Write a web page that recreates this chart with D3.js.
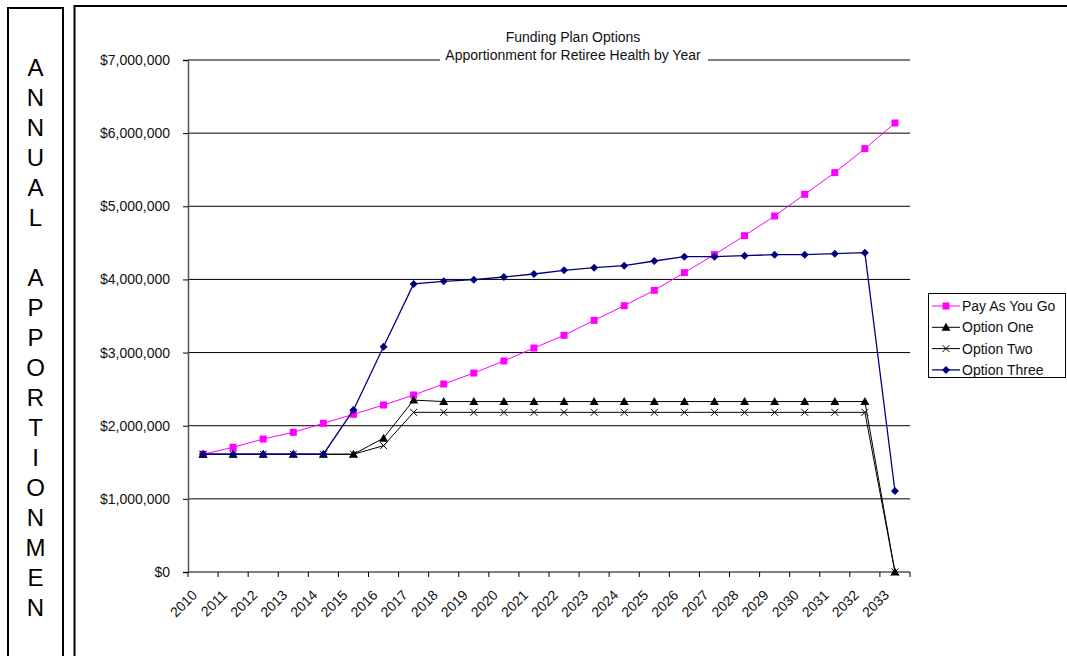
<!DOCTYPE html>
<html>
<head>
<meta charset="utf-8">
<script src="https://cdnjs.cloudflare.com/ajax/libs/d3/7.8.5/d3.min.js"></script>
<style>
  html, body { margin: 0; padding: 0; background: #fff; }
  svg { display: block; font-family: "Liberation Sans", Arial, sans-serif; }
</style>
</head>
<body>
<svg id="chart" width="1067" height="656"></svg>
<script>
// Fiscal years shown on the category axis
const years = ["2010","2011","2012","2013","2014","2015","2016","2017","2018","2019","2020","2021",
               "2022","2023","2024","2025","2026","2027","2028","2029","2030","2031","2032","2033"];

// Annual apportionment by funding plan (dollars)
const payAsYouGo = [1610000, 1705000, 1818000, 1910000, 2033000, 2156000, 2283000, 2420000,
                    2570000, 2720000, 2885000, 3063000, 3236000, 3441000, 3641000, 3851000,
                    4093000, 4339000, 4598000, 4867000, 5164000, 5460000, 5788000, 6139000];
const optionOne  = [1610000, 1610000, 1610000, 1610000, 1610000, 1610000, 1830000, 2350000,
                    2330000, 2330000, 2330000, 2330000, 2330000, 2330000, 2330000, 2330000,
                    2330000, 2330000, 2330000, 2330000, 2330000, 2330000, 2330000, 0];
const optionTwo  = [1610000, 1610000, 1610000, 1610000, 1610000, 1610000, 1727000, 2183000,
                    2183000, 2183000, 2183000, 2183000, 2183000, 2183000, 2183000, 2183000,
                    2183000, 2183000, 2183000, 2183000, 2183000, 2183000, 2183000, 0];
const optionThree = [1610000, 1610000, 1610000, 1610000, 1610000, 2215000, 3080000, 3938000,
                     3974000, 3997000, 4033000, 4074000, 4125000, 4161000, 4188000, 4252000,
                     4311000, 4311000, 4325000, 4339000, 4339000, 4352000, 4366000, 1107000];

const yTicks = [0, 1000000, 2000000, 3000000, 4000000, 5000000, 6000000, 7000000];
const sideLetters = ["A","N","N","U","A","L","","A","P","P","O","R","T","I","O","N","M","E","N"];

const series = [
  { name: "Pay As You Go", values: payAsYouGo, color: "#ff00ff", marker: "square", width: 1 },
  { name: "Option One",    values: optionOne,  color: "#000000", marker: "triangle", width: 1 },
  { name: "Option Two",    values: optionTwo,  color: "#000000", marker: "cross", width: 1 },
  { name: "Option Three",  values: optionThree, color: "#000080", marker: "diamond", width: 1.3 }
];

const svg = d3.select("#chart");

// Outer frames
svg.append("rect").attr("x", 8).attr("y", 8).attr("width", 55).attr("height", 660)
  .attr("fill", "none").attr("stroke", "#000").attr("stroke-width", 2);
svg.append("rect").attr("x", 74.5).attr("y", 6).attr("width", 1010).attr("height", 670)
  .attr("fill", "none").attr("stroke", "#000").attr("stroke-width", 2);

// Vertical side caption, one letter per row
svg.append("g").selectAll("text").data(sideLetters).join("text")
  .attr("x", 35.5).attr("y", (d, i) => 76 + i * 30.0)
  .attr("text-anchor", "middle").attr("font-size", 24).attr("fill", "#000")
  .text(d => d);

// Plot area
const plot = { left: 188, right: 910, top: 60, bottom: 572 };
const x = d3.scaleBand().domain(years).range([plot.left, plot.right]).padding(0);
const y = d3.scaleLinear().domain([0, 7000000]).range([plot.bottom, plot.top]);
const cx = d => x(d) + x.bandwidth() / 2;

// Horizontal gridlines
svg.append("g").selectAll("line").data(yTicks.filter(t => t > 0)).join("line")
  .attr("x1", plot.left).attr("x2", plot.right)
  .attr("y1", d => y(d)).attr("y2", d => y(d))
  .attr("stroke", "#000").attr("stroke-width", 1);

// Y axis
const fmt = d3.format("$,.0f");
const yAxis = svg.append("g").attr("transform", `translate(${plot.left},0)`)
  .call(d3.axisLeft(y).tickValues(yTicks).tickFormat(fmt).tickSize(5).tickPadding(13));
yAxis.select(".domain").attr("stroke", "#555").attr("stroke-width", 1.5);
yAxis.selectAll(".tick line").attr("stroke", "#000");
yAxis.selectAll("text").attr("font-size", 14).attr("fill", "#111")
  .attr("font-family", "'Liberation Sans', Arial, sans-serif");

// X axis with tick marks on category boundaries
const xAxisG = svg.append("g").attr("transform", `translate(0,${plot.bottom})`);
xAxisG.append("line").attr("x1", plot.left).attr("x2", plot.right)
  .attr("y1", 0).attr("y2", 0).attr("stroke", "#555").attr("stroke-width", 1.5);
const boundaries = years.map(d => x(d)).concat([plot.right]);
xAxisG.selectAll("line.tk").data(boundaries).join("line").attr("class", "tk")
  .attr("x1", d => d).attr("x2", d => d).attr("y1", 0).attr("y2", 5)
  .attr("stroke", "#000");
xAxisG.selectAll("text").data(years).join("text")
  .attr("transform", d => `translate(${cx(d) - 5},24) rotate(-45)`)
  .attr("text-anchor", "end").attr("font-size", 14).attr("fill", "#111")
  .text(d => d);

// Title, with a white backing over the top gridline
svg.append("rect").attr("x", 440).attr("y", 48).attr("width", 268).attr("height", 16).attr("fill", "#fff");
svg.append("text").attr("x", 573).attr("y", 42).attr("text-anchor", "middle")
  .attr("font-size", 14).attr("fill", "#111").text("Funding Plan Options");
svg.append("text").attr("x", 573).attr("y", 60).attr("text-anchor", "middle")
  .attr("font-size", 14).attr("fill", "#111").text("Apportionment for Retiree Health by Year");

// Marker shapes
function drawMarker(g, type, color) {
  if (type === "square") {
    g.append("rect").attr("x", -3.5).attr("y", -3.5).attr("width", 7).attr("height", 7).attr("fill", color);
  } else if (type === "triangle") {
    g.append("path").attr("d", "M0,-4.5L4.5,3.5L-4.5,3.5Z").attr("fill", color);
  } else if (type === "cross") {
    g.append("path").attr("d", "M-3.5,-3.5L3.5,3.5M-3.5,3.5L3.5,-3.5")
      .attr("stroke", color).attr("stroke-width", 1).attr("fill", "none");
  } else if (type === "diamond") {
    g.append("path").attr("d", "M0,-4L4,0L0,4L-4,0Z").attr("fill", color);
  }
}

// Series lines and markers
const line = d3.line().x((d, i) => cx(years[i])).y(d => y(d));
series.forEach(s => {
  const g = svg.append("g");
  g.append("path").datum(s.values).attr("d", line)
    .attr("fill", "none").attr("stroke", s.color).attr("stroke-width", s.width);
  s.values.forEach((v, i) => {
    const m = g.append("g").attr("transform", `translate(${cx(years[i])},${y(v)})`);
    drawMarker(m, s.marker, s.color);
  });
});

// Legend
const legend = svg.append("g");
legend.append("rect").attr("x", 928.5).attr("y", 293.5).attr("width", 137).attr("height", 84)
  .attr("fill", "#fff").attr("stroke", "#000").attr("stroke-width", 1);
series.forEach((s, i) => {
  const ly = 306 + i * 21.3;
  const lg = legend.append("g");
  lg.append("line").attr("x1", 932).attr("x2", 960).attr("y1", ly).attr("y2", ly)
    .attr("stroke", s.color).attr("stroke-width", s.width);
  drawMarker(lg.append("g").attr("transform", `translate(946,${ly})`), s.marker, s.color);
  lg.append("text").attr("x", 962).attr("y", ly + 5).attr("font-size", 14).attr("fill", "#111").text(s.name);
});
</script>
</body>
</html>
